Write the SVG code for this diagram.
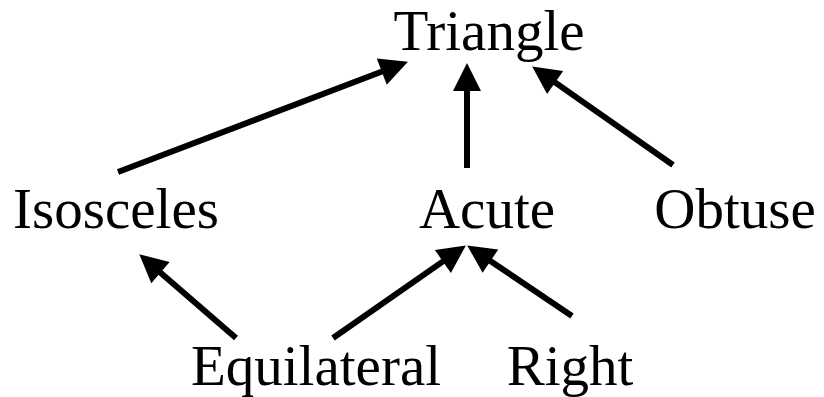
<svg xmlns="http://www.w3.org/2000/svg" width="824" height="397" viewBox="0 0 824 397">
<style>
.lbl{font-family:"Liberation Serif","Times New Roman",serif;font-size:57px;fill:#000;text-anchor:middle}
.edge{stroke:#000;stroke-width:6;fill:none;marker-end:url(#ah)}
</style>
<defs>
<marker id="ah" markerUnits="userSpaceOnUse" markerWidth="30" markerHeight="30" refX="0" refY="0" orient="auto" viewBox="-1 -15 30 30" overflow="visible">
<path d="M-1,-14 L27,0 L-1,14 z" fill="#000"/>
</marker>
</defs>
<rect width="824" height="397" fill="#fff"/>
<g id="connectors">
<line class="edge" x1="118" y1="172" x2="382.7" y2="71.3"/>
<line class="edge" x1="467" y1="168" x2="467" y2="90"/>
<line class="edge" x1="673" y1="165" x2="554.3" y2="81.9"/>
<line class="edge" x1="236" y1="338" x2="159.7" y2="272"/>
<line class="edge" x1="333" y1="338" x2="443.7" y2="260.9"/>
<line class="edge" x1="572" y1="316" x2="489.6" y2="260.5"/>
</g>
<g id="triangle"><text class="lbl" x="489" y="50">Triangle</text></g>
<g id="isosceles"><text class="lbl" x="116" y="228">Isosceles</text></g>
<g id="acute"><text class="lbl" x="487" y="228">Acute</text></g>
<g id="obtuse"><text class="lbl" x="735" y="228">Obtuse</text></g>
<g id="equilateral"><text class="lbl" x="316" y="385">Equilateral</text></g>
<g id="right"><text class="lbl" x="570" y="385">Right</text></g>
</svg>
